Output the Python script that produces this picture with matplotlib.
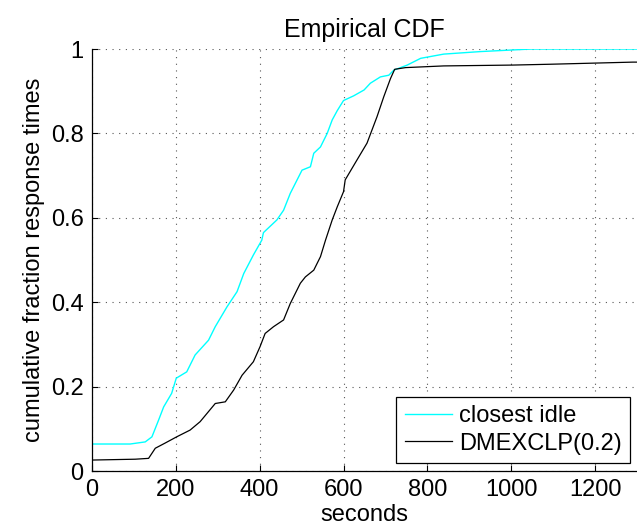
import matplotlib
matplotlib.use("Agg")
import matplotlib.pyplot as plt

plt.rcParams['font.family'] = ['Liberation Sans', 'DejaVu Sans']

# closest idle (cyan) CDF read-off points
idle_s = [0, 0, 91, 127, 143, 159, 171, 190, 201, 226, 246, 278, 294, 322, 346, 362, 385, 405,
          409, 441, 457, 473, 501, 521, 529, 545, 561, 573, 585, 600, 624, 649, 664, 688, 708,
          720, 752, 784, 839, 927, 1007, 1047, 1300]
idle_f = [0.03, 0.064, 0.064, 0.069, 0.081, 0.121, 0.152, 0.184, 0.22, 0.235, 0.275, 0.31, 0.342,
          0.389, 0.425, 0.468, 0.512, 0.547, 0.565, 0.595, 0.618, 0.658, 0.713, 0.721, 0.753,
          0.768, 0.8, 0.832, 0.854, 0.878, 0.889, 0.903, 0.919, 0.934, 0.938, 0.95, 0.962,
          0.978, 0.988, 0.994, 0.998, 1.0, 1.0]

# DMEXCLP(0.2) (black) CDF read-off points
dm_s = [0, 103, 135, 151, 174, 202, 234, 258, 294, 318, 338, 358, 385, 401, 413, 433, 457, 473,
        497, 509, 529, 545, 557, 573, 585, 600, 604, 632, 656, 680, 696, 712, 722, 748, 839,
        1003, 1094, 1290, 1300]
dm_f = [0.026, 0.028, 0.03, 0.054, 0.066, 0.081, 0.097, 0.117, 0.16, 0.164, 0.192, 0.227, 0.259,
        0.295, 0.326, 0.342, 0.358, 0.397, 0.445, 0.46, 0.476, 0.508, 0.547, 0.595, 0.626,
        0.662, 0.69, 0.737, 0.777, 0.84, 0.887, 0.93, 0.952, 0.956, 0.96, 0.962, 0.964, 0.969,
        0.969]

xticks = [0, 200, 400, 600, 800, 1000, 1200]
yticks = [0, 0.2, 0.4, 0.6, 0.8, 1.0]
yticklabels = ['0', '0.2', '0.4', '0.6', '0.8', '1']

fig = plt.figure(figsize=(6.37, 5.29), dpi=100)
ax = fig.add_axes([0.1444, 0.1096, 0.8556, 0.7977])

ax.plot(idle_s, idle_f, color='#00ffff', lw=1.0, label='closest idle')
ax.plot(dm_s, dm_f, color='black', lw=0.9, label='DMEXCLP(0.2)')

ax.set_xlim(0, 1300)
ax.set_ylim(0, 1)
ax.set_xticks(xticks)
ax.set_yticks(yticks)
ax.set_yticklabels(yticklabels)
ax.tick_params(direction='in', labelsize=17, length=4, width=0.8, pad=6)
for s in ['top', 'right']:
    ax.spines[s].set_visible(False)
for s in ['left', 'bottom']:
    ax.spines[s].set_linewidth(0.9)

ax.grid(True, linestyle=(0, (1, 5)), color='#555555', linewidth=0.8)
ax.set_axisbelow(True)

ax.set_title('Empirical CDF', fontsize=18, pad=9)
ax.set_xlabel('seconds', fontsize=17, labelpad=2)
ax.set_ylabel('cumulative fraction response times', fontsize=17, labelpad=4)

leg = ax.legend(loc='lower right', bbox_to_anchor=(0.987, 0.019), borderaxespad=0,
                fontsize=17, fancybox=False, framealpha=1, edgecolor='black',
                handlelength=2.0, handletextpad=0.3, labelspacing=0.25, borderpad=0.35)
leg.get_frame().set_linewidth(0.9)

fig.savefig('out.png', dpi=100)
